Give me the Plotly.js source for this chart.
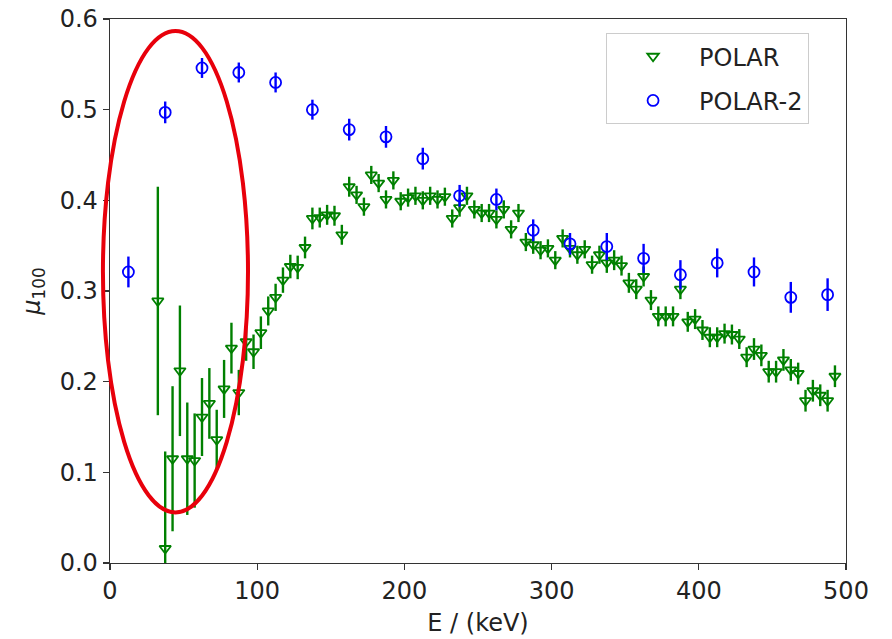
<!DOCTYPE html>
<html>
<head>
<meta charset="utf-8">
<script src="https://cdn.plot.ly/plotly-3.0.1.min.js"></script>
<style>html,body{margin:0;padding:0;background:#fff;}#chart{width:892px;height:639px;}</style>
</head>
<body>
<div id="chart"></div>
<script>
// POLAR (green, triangle-down) energies in keV
var polarE = [32.5,37.5,42.5,47.5,52.5,57.5,62.5,67.5,72.5,77.5,
  82.5,87.5,92.5,97.5,102.5,107.5,112.5,117.5,122.5,127.5,
  132.5,137.5,142.5,147.5,152.5,157.5,162.5,167.5,172.5,177.5,
  182.5,187.5,192.5,197.5,202.5,207.5,212.5,217.5,222.5,227.5,
  232.5,237.5,242.5,247.5,252.5,257.5,262.5,267.5,272.5,277.5,
  282.5,287.5,292.5,297.5,302.5,307.5,312.5,317.5,322.5,327.5,
  332.5,337.5,342.5,347.5,352.5,357.5,362.5,367.5,372.5,377.5,
  382.5,387.5,392.5,397.5,402.5,407.5,412.5,417.5,422.5,427.5,
  432.5,437.5,442.5,447.5,452.5,457.5,462.5,467.5,472.5,477.5,
  482.5,487.5,492.5];
var polarMu = [0.289,0.016,0.115,0.212,0.115,0.113,0.161,0.176,0.136,0.192,
  0.237,0.188,0.244,0.233,0.254,0.278,0.293,0.312,0.327,0.326,
  0.348,0.380,0.381,0.384,0.383,0.362,0.415,0.406,0.393,0.428,
  0.419,0.401,0.422,0.399,0.403,0.405,0.400,0.405,0.401,0.404,
  0.380,0.392,0.405,0.390,0.386,0.386,0.379,0.390,0.368,0.386,
  0.354,0.351,0.345,0.347,0.334,0.358,0.347,0.340,0.346,0.329,
  0.340,0.331,0.334,0.328,0.309,0.302,0.316,0.290,0.272,0.272,
  0.272,0.302,0.266,0.269,0.257,0.249,0.249,0.253,0.252,0.247,
  0.227,0.236,0.229,0.211,0.211,0.224,0.213,0.209,0.179,0.190,
  0.185,0.179,0.206];
var polarErr = [0.126,0.107,0.080,0.072,0.062,0.052,0.043,0.039,0.033,0.032,
  0.028,0.025,0.021,0.019,0.018,0.016,0.015,0.014,0.013,0.013,
  0.012,0.012,0.011,0.011,0.011,0.011,0.011,0.010,0.010,0.010,
  0.010,0.010,0.010,0.010,0.010,0.010,0.010,0.010,0.010,0.010,
  0.010,0.010,0.010,0.010,0.010,0.010,0.010,0.010,0.010,0.010,
  0.010,0.010,0.010,0.010,0.010,0.010,0.010,0.010,0.010,0.010,
  0.010,0.011,0.011,0.011,0.011,0.011,0.011,0.011,0.011,0.011,
  0.011,0.011,0.011,0.011,0.011,0.011,0.011,0.011,0.011,0.011,
  0.011,0.012,0.012,0.012,0.012,0.012,0.012,0.012,0.012,0.012,
  0.012,0.012,0.012];

// POLAR-2 (blue, open circle)
var polar2E = [12.5,37.5,62.5,87.5,112.5,137.5,162.5,187.5,212.5,237.5,
  262.5,287.5,312.5,337.5,362.5,387.5,412.5,437.5,462.5,487.5];
var polar2Mu = [0.321,0.497,0.546,0.541,0.530,0.500,0.478,0.470,0.446,0.405,
  0.401,0.367,0.352,0.349,0.336,0.318,0.331,0.321,0.293,0.296];
var polar2Err = [0.017,0.012,0.011,0.011,0.011,0.011,0.012,0.012,0.012,0.012,
  0.012,0.012,0.012,0.015,0.016,0.016,0.016,0.016,0.017,0.018];

var seriesNames = ['POLAR', 'POLAR-2'];
var xTicks = [0,100,200,300,400,500];
var yTicks = [0.0,0.1,0.2,0.3,0.4,0.5,0.6];
var yTickText = ['0.0','0.1','0.2','0.3','0.4','0.5','0.6'];

var green = '#008000';
var blue = '#0000ff';
var fontFam = 'DejaVu Sans, Arial, sans-serif';

var traces = [
  {
    x: polarE, y: polarMu, type: 'scatter', mode: 'markers', name: seriesNames[0],
    legendgroup: 'g1',
    marker: {symbol: 'triangle-down-open', size: 10, color: green, line: {color: green, width: 1.8}},
    error_y: {type: 'data', array: polarErr, visible: true, color: green, thickness: 2.4, width: 0}
  },
  {
    x: polar2E, y: polar2Mu, type: 'scatter', mode: 'markers', name: seriesNames[1],
    legendgroup: 'g2',
    marker: {symbol: 'circle-open', size: 11, color: blue, line: {color: blue, width: 1.8}},
    error_y: {type: 'data', array: polar2Err, visible: true, color: blue, thickness: 2.4, width: 0}
  }
];

var axisCommon = {
  showgrid: false, zeroline: false, showline: true, mirror: true,
  linecolor: '#333', linewidth: 1.3,
  ticks: 'outside', ticklen: 6, tickwidth: 1.3, tickcolor: '#333',
  tickfont: {family: fontFam, size: 24, color: '#222'}
};

var layout = {
  width: 892, height: 639,
  paper_bgcolor: '#fff', plot_bgcolor: '#fff',
  margin: {l: 110, r: 46, t: 19, b: 76},
  showlegend: true,
  legend: {
    x: 0.674, y: 0.974, xanchor: 'left', yanchor: 'top',
    bgcolor: 'rgba(255,255,255,0.9)', bordercolor: '#cccccc', borderwidth: 1,
    font: {family: fontFam, size: 24, color: '#222'},
    itemwidth: 82, tracegroupgap: 10, traceorder: 'grouped'
  },
  xaxis: Object.assign({}, axisCommon, {
    range: [0, 500], tickvals: xTicks,
    title: {text: 'E / (keV)', font: {family: fontFam, size: 24, color: '#222'}, standoff: 10}
  }),
  yaxis: Object.assign({}, axisCommon, {
    range: [0, 0.6], tickvals: yTicks, ticktext: yTickText,
    title: {text: '<i>μ</i><sub>100</sub>', font: {family: fontFam, size: 24, color: '#222'}, standoff: 12}
  }),
  shapes: [{
    type: 'circle', xref: 'paper', yref: 'paper',
    x0: -0.0096, x1: 0.1875, y0: 0.093, y1: 0.978,
    line: {color: '#e8000b', width: 4}, layer: 'above'
  }]
};

Plotly.newPlot('chart', traces, layout, {displayModeBar: false, staticPlot: true});
</script>
</body>
</html>
